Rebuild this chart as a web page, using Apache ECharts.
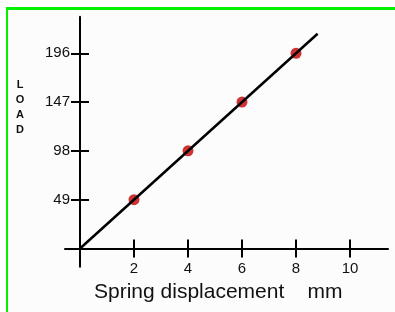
<!DOCTYPE html>
<html>
	<head>
		<meta charset="utf-8">
		<title>Spring load</title>
		<script src="https://cdn.jsdelivr.net/npm/echarts@6/dist/echarts.min.js"></script>
		<style>
			html, body { margin: 0; padding: 0; background: #fff; }
			#frame {
				position: absolute; left: 6px; top: 7px; width: 400px; height: 320px;
				border-top: 3px solid #00f000; border-left: 2px solid #00f000;
				background: #fcfcfc;
			}
			#main { position: absolute; left: 0; top: 0; width: 395px; height: 312px; }
		</style>
	</head>
	<body>
		<div id="frame"></div>
		<div id="main"></div>
		<script>
			// 读图得到的数据
			var xTicks = [2, 4, 6, 8, 10];
			var yTicks = [49, 98, 147, 196];
			var points = [[2, 49], [4, 98], [6, 147], [8, 196]];
			var fitLine = [[0, 0], [8.8, 215.6]];

			var font = '"Liberation Sans", Arial, Helvetica, sans-serif';
			var xMin = -0.556, xMax = 11.407;
			var yMin = -18.3, yMax = 232.7;

			var myChart = echarts.init(document.getElementById('main'));

			function mainX() {
				return {
					type: 'value', position: 'bottom', min: xMin, max: xMax,
					axisLine: { onZero: true, lineStyle: { color: '#000', width: 2 } },
					axisTick: { customValues: xTicks, length: 9, lineStyle: { color: '#000', width: 2 } },
					axisLabel: { customValues: xTicks, margin: -5, color: '#111', fontSize: 15, fontFamily: font },
					splitLine: { show: false }
				};
			}
			function innerX() {
				return {
					type: 'value', position: 'bottom', min: xMin, max: xMax,
					axisLine: { show: false, onZero: true },
					axisTick: { customValues: xTicks, inside: true, length: 9, lineStyle: { color: '#000', width: 2 } },
					axisLabel: { show: false },
					splitLine: { show: false }
				};
			}
			function mainY() {
				return {
					type: 'value', position: 'left', min: yMin, max: yMax,
					axisLine: { onZero: true, lineStyle: { color: '#000', width: 2 } },
					axisTick: { customValues: yTicks, length: 9, lineStyle: { color: '#000', width: 2 } },
					axisLabel: { customValues: yTicks, margin: -5, color: '#111', fontSize: 15, fontFamily: font },
					splitLine: { show: false }
				};
			}
			function innerY() {
				return {
					type: 'value', position: 'left', min: yMin, max: yMax,
					axisLine: { show: false, onZero: true },
					axisTick: { customValues: yTicks, inside: true, length: 9, lineStyle: { color: '#000', width: 2 } },
					axisLabel: { show: false },
					splitLine: { show: false }
				};
			}

			var option = {
				animation: false,
				backgroundColor: 'transparent',
				grid: { left: 65, right: 7, top: 16.7, bottom: 45.3, containLabel: false },
				xAxis: [mainX(), innerX()],
				yAxis: [mainY(), innerY()],
				graphic: [
					{
						type: 'text', x: 20, y: 77,
						style: { text: 'L\nO\nA\nD', font: 'bold 11px ' + font, fill: '#111', align: 'center', verticalAlign: 'top', lineHeight: 15 }
					},
					{
						type: 'text', x: 94, y: 292,
						style: { text: 'Spring displacement    mm', font: '21px ' + font, fill: '#111', align: 'left', verticalAlign: 'middle' }
					}
				],
				series: [
					{
						type: 'line', data: fitLine, symbol: 'none', silent: true,
						lineStyle: { color: '#000', width: 2.5 }
					},
					{
						type: 'scatter', data: points, symbolSize: 11,
						itemStyle: { color: '#c00000' }
					}
				]
			};
			myChart.setOption(option);
		</script>
	</body>
</html>
